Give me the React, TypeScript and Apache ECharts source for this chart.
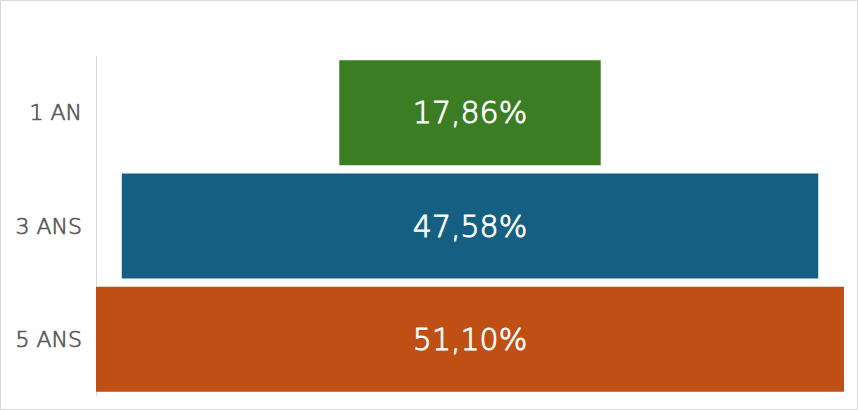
import React, { useEffect, useRef } from "react";
import * as echarts from "echarts";

const categories = ["1 AN", "3 ANS", "5 ANS"];
const values = [17.86, 47.58, 51.1];
const colors = ["#3B7D23", "#156082", "#C04F15"];

export default function App() {
  const ref = useRef<HTMLDivElement>(null);
  useEffect(() => {
    document.body.style.margin = "0";
    const chart = echarts.init(ref.current!, null, { renderer: "svg" });
    const maxV = Math.max(...values);
    const offsets = values.map((v) => (maxV - v) / 2);
    chart.setOption({
      animation: false,
      backgroundColor: "#ffffff",
      grid: { left: 96, right: 14, top: 56, bottom: 14 },
      xAxis: { type: "value", min: 0, max: maxV, show: false },
      yAxis: {
        type: "category",
        data: categories,
        inverse: true,
        axisLine: { show: true, lineStyle: { color: "#d9d9d9", width: 1 } },
        axisTick: { show: false },
        axisLabel: {
          color: "#595959",
          fontSize: 22,
          fontFamily: "DejaVu Sans",
          fontWeight: 200,
          textBorderColor: "#595959",
          textBorderWidth: 0.7,
          margin: 14,
        },
      },
      series: [
        {
          type: "bar",
          stack: "s",
          data: offsets,
          barWidth: 105,
          itemStyle: { color: "rgba(0,0,0,0)" },
          silent: true,
        },
        {
          type: "bar",
          stack: "s",
          barWidth: 105,
          data: values.map((v, i) => ({ value: v, itemStyle: { color: colors[i] } })),
          label: {
            show: true,
            position: "inside",
            color: "#ffffff",
            fontSize: 30,
            fontFamily: "DejaVu Sans",
            fontWeight: 200,
            textBorderColor: "#ffffff",
            textBorderWidth: 0.9,
            formatter: (p: any) => p.value.toFixed(2).replace(".", ",") + "%",
          },
        },
      ],
      graphic: [
        {
          type: "rect",
          shape: { x: 0.5, y: 0.5, width: 857, height: 409 },
          style: { fill: "none", stroke: "#d9d9d9", lineWidth: 1 },
          silent: true,
        },
      ],
    });
    return () => chart.dispose();
  }, []);
  return <div ref={ref} style={{ width: 858, height: 410 }} />;
}
